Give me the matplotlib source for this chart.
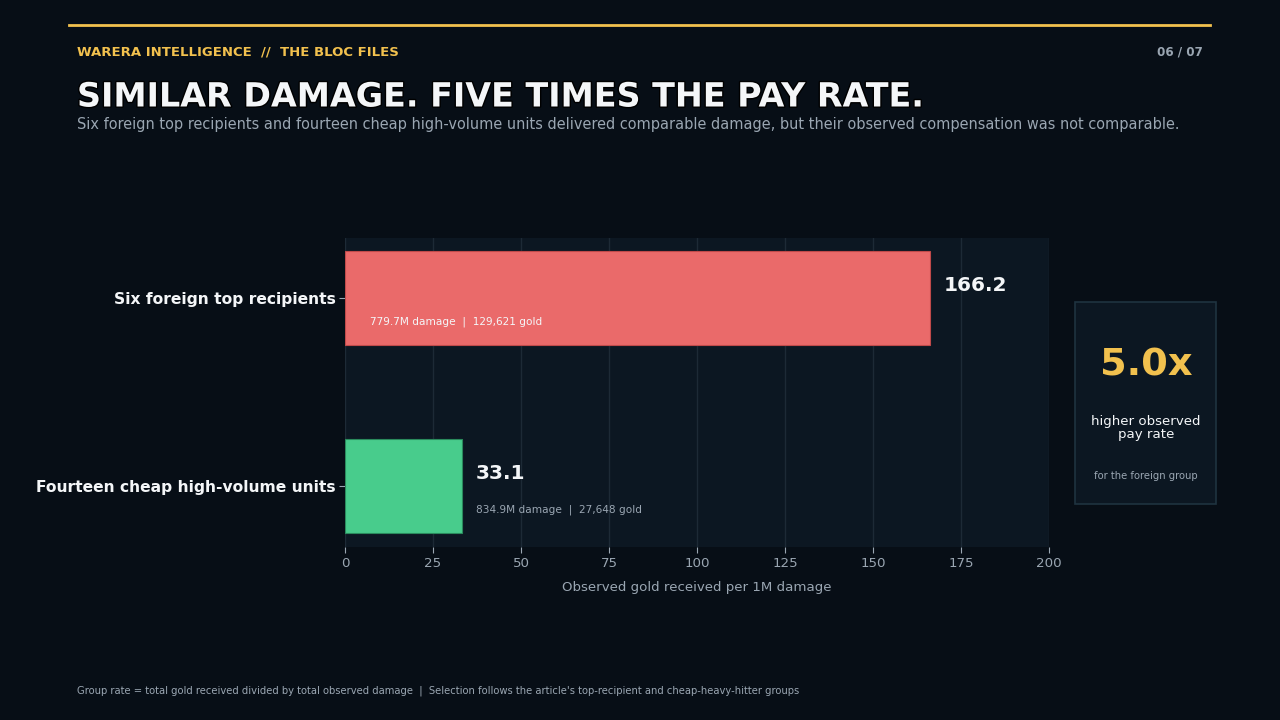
import matplotlib
matplotlib.use("Agg")
import matplotlib.pyplot as plt
import matplotlib.patheffects as pe
from matplotlib.patches import Rectangle

plt.rcParams["font.family"] = ["DejaVu Sans"]

# Data
groups = ["Fourteen cheap high-volume units", "Six foreign top recipients"]
rates = [33.1, 166.2]
damage_m = [834.9, 779.7]
gold = [27648, 129621]
colors = ["#48cc8c", "#ea6a6a"]
ratio = 5.0

BG = "#070e16"
PANEL = "#0c1722"
GRID = "#1d2a36"
GREY = "#9aa6b2"
YELLOW = "#f2c14e"
WHITE = "#f4f6f8"

fig = plt.figure(figsize=(12.8, 7.2), dpi=100, facecolor=BG)

# header
fig.add_artist(plt.Line2D([69 / 1280, 1210 / 1280], [1 - 25 / 720, 1 - 25 / 720],
                          color=YELLOW, lw=2))
fig.text(77 / 1280, 1 - 52 / 720, "WARERA INTELLIGENCE  //  THE BLOC FILES",
         color=YELLOW, fontsize=9.5, fontweight="bold", va="center")
fig.text(1203 / 1280, 1 - 52 / 720, "06 / 07", color=GREY, fontsize=8.6,
         fontweight="bold", va="center", ha="right")
fig.text(77 / 1280, 1 - 97 / 720, "SIMILAR DAMAGE. FIVE TIMES THE PAY RATE.",
         color=WHITE, fontsize=24, fontweight="bold", va="center",
         path_effects=[pe.withStroke(linewidth=2, foreground="#000000")])
fig.text(77 / 1280, 1 - 125 / 720,
         "Six foreign top recipients and fourteen cheap high-volume units delivered comparable damage, "
         "but their observed compensation was not comparable.",
         color=GREY, fontsize=10.45, va="center")

# main chart
ax = fig.add_axes([345 / 1280, 1 - 547 / 720, 704 / 1280, 309 / 720])
ax.set_facecolor(PANEL)
ypos = list(range(len(groups)))
ax.barh(ypos, rates, height=0.5, color=colors, edgecolor=["#2a8a5c", "#c04a4a"],
        linewidth=0.8, zorder=3)
ax.set_xlim(0, 200)
ax.set_ylim(-0.325, 1.32)
ax.set_xticks(range(0, 201, 25))
ax.grid(axis="x", color=GRID, lw=1, zorder=0)
ax.set_axisbelow(True)
for s in ax.spines.values():
    s.set_visible(False)
ax.set_yticks(ypos)
ax.set_yticklabels(groups, color=WHITE, fontsize=11.2, fontweight="bold")
ax.tick_params(axis="x", colors=GREY, labelsize=9.6, length=4, color=GREY, pad=3)
ax.tick_params(axis="y", length=4, color=GREY, pad=2.5)
ax.set_xlabel("Observed gold received per 1M damage", color=GREY, fontsize=9.6, labelpad=8)

for y, r, d, g in zip(ypos, rates, damage_m, gold):
    ax.text(r + 4, y + 0.065, f"{r:.1f}", color=WHITE, fontsize=14.5,
            fontweight="bold", va="center", ha="left", zorder=4)
    detail = f"{d:.1f}M damage  |  {g:,} gold"
    if r > 100:
        ax.text(7, y - 0.128, detail, color=WHITE, fontsize=7.6, va="center", zorder=4)
    else:
        ax.text(r + 4, y - 0.128, detail, color=GREY, fontsize=7.6, va="center", zorder=4)

# side box
fig.add_artist(Rectangle((1075 / 1280, 1 - 504 / 720), 141 / 1280, 202 / 720,
                         transform=fig.transFigure, facecolor=PANEL,
                         edgecolor="#1f3340", lw=1.2))
fig.text(1146 / 1280, 1 - 366 / 720, f"{ratio:.1f}x", color=YELLOW, fontsize=27.5,
         fontweight="bold", ha="center", va="center")
fig.text(1146 / 1280, 1 - 428 / 720, "higher observed\npay rate", color=WHITE,
         fontsize=9.6, ha="center", va="center", linespacing=1.05)
fig.text(1146 / 1280, 1 - 476 / 720, "for the foreign group", color=GREY,
         fontsize=7.2, ha="center", va="center")

# footer
fig.text(77 / 1280, 1 - 691 / 720,
         "Group rate = total gold received divided by total observed damage  |  "
         "Selection follows the article's top-recipient and cheap-heavy-hitter groups",
         color=GREY, fontsize=7.2, va="center")

fig.savefig("out.png", dpi=100, facecolor=BG)
